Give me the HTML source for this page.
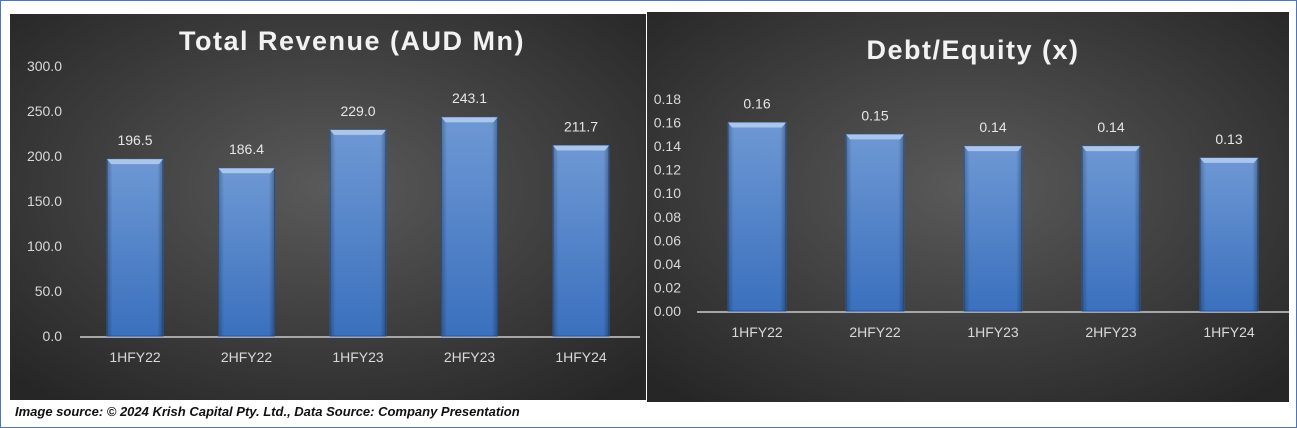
<!DOCTYPE html>
<html><head><meta charset="utf-8"><style>
body{margin:0;width:1297px;height:428px;background:#fff;overflow:hidden;font-family:"Liberation Sans",sans-serif}
#frame{position:absolute;left:0;top:0;width:1295px;height:426px;border:1px solid #4a76c0}
svg{position:absolute;left:0;top:0}
</style></head><body>
<div id="frame"></div>
<svg width="1297" height="428">
<defs>
<radialGradient id="bg" cx="50%" cy="45%" r="70%"><stop offset="0" stop-color="#5a5a5a"/><stop offset="1" stop-color="#262626"/></radialGradient>
<linearGradient id="bar" x1="0" y1="0" x2="0" y2="1"><stop offset="0" stop-color="#6e98d4"/><stop offset="1" stop-color="#3a70bd"/></linearGradient>
<linearGradient id="barside" x1="0" y1="0" x2="1" y2="0"><stop offset="0" stop-color="#000" stop-opacity="0.25"/><stop offset="0.1" stop-color="#000" stop-opacity="0"/><stop offset="0.9" stop-color="#000" stop-opacity="0"/><stop offset="1" stop-color="#000" stop-opacity="0.3"/></linearGradient>
</defs>
<rect x="10" y="14" width="636" height="386" fill="url(#bg)"/>
<rect x="647" y="12" width="642" height="390" fill="url(#bg)"/>
<g id="c1"></g><g id="c2"></g>
<text x="15" y="416" font-size="13" font-weight="bold" font-style="italic" fill="#111">Image source: © 2024 Krish Capital Pty. Ltd., Data Source: Company Presentation</text>
</svg>
<script>
const categories=["1HFY22","2HFY22","1HFY23","2HFY23","1HFY24"];
const revenueValues=[196.5,186.4,229.0,243.1,211.7];
const revenueTicks=[0,50,100,150,200,250,300];
const deValues=[0.16,0.15,0.14,0.14,0.13];
const deTicks=[0,0.02,0.04,0.06,0.08,0.10,0.12,0.14,0.16,0.18];
const NS="http://www.w3.org/2000/svg";
function mk(g,t,a,txt){const e=document.createElementNS(NS,t);for(const k in a)e.setAttribute(k,a[k]);if(txt!=null)e.textContent=txt;g.appendChild(e);return e;}
function draw(gid,cfg){
const g=document.getElementById(gid);
const y=v=>cfg.y0-(v-cfg.min)/(cfg.max-cfg.min)*(cfg.y0-cfg.yTop);
const x=i=>cfg.x0+i*cfg.step;
let t=mk(g,"text",{x:cfg.titleX,y:cfg.titleY,"font-size":27,"font-weight":"bold","letter-spacing":1.5,"text-anchor":"middle",fill:"#f2f2f2"},cfg.title);


cfg.ticks.forEach(v=>{const e=mk(g,"text",{x:cfg.tickX,y:y(v)+5,"font-size":14,"text-anchor":"end",fill:"#d9d9d9"},v.toFixed(cfg.dec));

});
const ax=mk(g,"line",{x1:cfg.axL,x2:cfg.axR,y1:cfg.y0+1,y2:cfg.y0+1,stroke:"#a6a6a6","stroke-width":2});


cfg.vals.forEach((v,i)=>{const cx=x(i),w=cfg.bw,top=y(v);
const r=mk(g,"rect",{x:cx-w/2,y:top,width:w,height:cfg.y0-top,fill:"url(#bar)",stroke:"#2d5a9a","stroke-width":1});


mk(g,"rect",{x:cx-w/2,y:top,width:w,height:cfg.y0-top,fill:"url(#barside)"});
mk(g,"polygon",{points:`${cx-w/2},${top} ${cx+w/2},${top} ${cx+w/2-4},${top+5} ${cx-w/2+4},${top+5}`,fill:"#a9c6ee"});
const l=mk(g,"text",{x:cx,y:top-14,"font-size":14,"text-anchor":"middle",fill:"#e6e6e6"},v.toFixed(cfg.vdec));


const c=mk(g,"text",{x:cx,y:cfg.catY,"font-size":14,"text-anchor":"middle",fill:"#d9d9d9"},categories[i]);

});
}
draw("c1",{title:"Total Revenue (AUD Mn)",titleX:352,titleY:50,vals:revenueValues,ticks:revenueTicks,min:0,max:300,y0:336,yTop:66,x0:135,step:111.5,bw:56,tickX:62,axL:80,axR:640,catY:362,dec:1,vdec:1});
draw("c2",{title:"Debt/Equity (x)",titleX:973,titleY:59,vals:deValues,ticks:deTicks,min:0,max:0.18,y0:311,yTop:99,x0:757,step:118,bw:58,tickX:681,axL:697,axR:1289,catY:337,dec:2,vdec:2});
</script>
</body></html>
